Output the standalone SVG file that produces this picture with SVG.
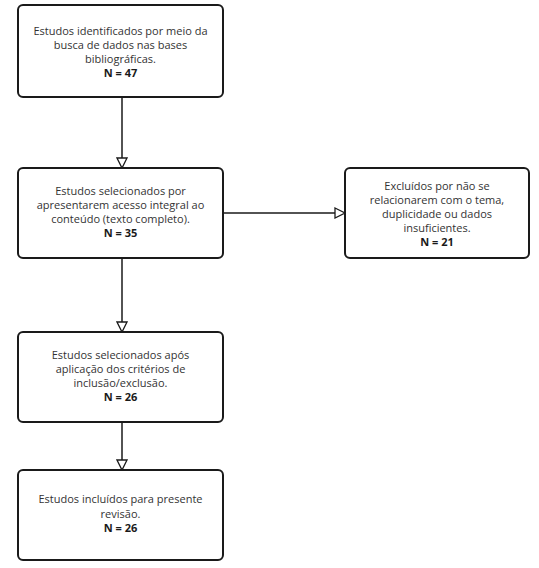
<svg xmlns="http://www.w3.org/2000/svg" width="539" height="568" viewBox="0 0 539 568">
<style>
.box{fill:#fff;stroke:#1a1a1a;stroke-width:2}
.t{font-family:"Open Sans","Noto Sans",sans-serif;font-size:11px;fill:#333;text-anchor:middle}
.b{font-weight:bold;fill:#1a1a1a}
.c{stroke:#1a1a1a;stroke-width:1.5;fill:none}
</style>
<defs>
<marker id="ah" markerWidth="14" markerHeight="12" refX="11" refY="6" orient="auto" markerUnits="userSpaceOnUse">
<path d="M1,1 L11,6 L1,11 Z" fill="#fff" stroke="#1a1a1a" stroke-width="1.3"/>
</marker>
</defs>
<rect width="539" height="568" fill="#fff"/>
<g id="connectors">
<line class="c" x1="122" y1="97" x2="122" y2="168" marker-end="url(#ah)"/>
<line class="c" x1="223" y1="213" x2="345" y2="213" marker-end="url(#ah)"/>
<line class="c" x1="122" y1="258" x2="122" y2="332" marker-end="url(#ah)"/>
<line class="c" x1="122" y1="422" x2="122" y2="470" marker-end="url(#ah)"/>
</g>
<g id="n1">
<rect class="box" x="18" y="5" width="205" height="92" rx="5"/>
<text class="t" x="120.5" y="35">Estudos identificados por meio da</text>
<text class="t" x="120.5" y="49">busca de dados nas bases</text>
<text class="t" x="120.5" y="63">bibliográficas.</text>
<text class="t b" x="120.5" y="77">N = 47</text>
</g>
<g id="n2">
<rect class="box" x="18" y="168" width="205" height="90" rx="5"/>
<text class="t" x="120.5" y="195">Estudos selecionados por</text>
<text class="t" x="120.5" y="209">apresentarem acesso integral ao</text>
<text class="t" x="120.5" y="223">conteúdo (texto completo).</text>
<text class="t b" x="120.5" y="237">N = 35</text>
</g>
<g id="n3">
<rect class="box" x="345" y="168" width="184" height="90" rx="5"/>
<text class="t" x="437" y="190">Excluídos por não se</text>
<text class="t" x="437" y="204">relacionarem com o tema,</text>
<text class="t" x="437" y="218">duplicidade ou dados</text>
<text class="t" x="437" y="232">insuficientes.</text>
<text class="t b" x="437" y="246">N = 21</text>
</g>
<g id="n4">
<rect class="box" x="18" y="332" width="205" height="90" rx="5"/>
<text class="t" x="120.5" y="359">Estudos selecionados após</text>
<text class="t" x="120.5" y="373">aplicação dos critérios de</text>
<text class="t" x="120.5" y="387">inclusão/exclusão.</text>
<text class="t b" x="120.5" y="401">N = 26</text>
</g>
<g id="n5">
<rect class="box" x="18" y="470" width="205" height="90" rx="5"/>
<text class="t" x="120.5" y="503">Estudos incluídos para presente</text>
<text class="t" x="120.5" y="518">revisão.</text>
<text class="t b" x="120.5" y="532">N = 26</text>
</g>
</svg>
